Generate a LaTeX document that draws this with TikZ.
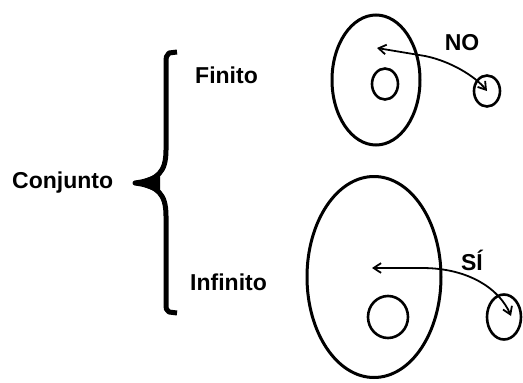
\documentclass[tikz,border=0pt]{standalone}
\usepackage{fontspec}
\setmainfont{Liberation Sans}
\usetikzlibrary{arrows.meta,shapes.geometric}

\begin{document}
\begin{tikzpicture}[
x=1pt, y=-1pt,
lbl/.style={font=\fontsize{23}{27}\selectfont\bfseries, inner sep=0pt},
set/.style={draw, ellipse, line width=3pt, inner sep=0pt},
elem/.style={set, line width=2.6pt},
arr/.style={{Straight Barb[length=2.6mm,width=3.4mm]}-{Straight Barb[length=2.6mm,width=3.4mm]}, line width=1.8pt}
]
\useasboundingbox (0,0) rectangle (523,383);
% labels
\node[lbl, anchor=west] (conj) at (12,183) {Conjunto};
\node[lbl, anchor=west] (fin) at (195,75) {Finito};
\node[lbl, anchor=west] (inf) at (190,282) {Infinito};
\node[lbl] (no) at (462,43) {NO};
\node[lbl] (si) at (472,260) {SÍ};
% brace
\draw[line width=5pt, line join=round]
  (177,52) -- (169,53) .. controls (166,56) .. (166,66) -- (166,150)
  .. controls (166,172) and (158,180) .. (135,183)
  .. controls (158,186) and (166,194) .. (166,216) -- (166,300)
  .. controls (166,310) .. (169,312) -- (177,313);
\fill (134,183) -- (160,173) -- (160,193) -- cycle;
% finite set
\node[set, minimum width=88pt, minimum height=130pt] (finA) at (376,80) {};
\node[elem, minimum width=26pt, minimum height=31pt] (finB) at (385,84) {};
\node[elem, minimum width=26pt, minimum height=31pt] (finC) at (487,91) {};
\coordinate (finP) at (377,48);
\draw[arr] (finP) -- (425,56) .. controls (450,61) and (475,76) .. (finC.center);
% infinite set
\node[set, minimum width=134pt, minimum height=201pt] (infA) at (374,277) {};
\node[elem, minimum width=40pt, minimum height=42pt] (infB) at (388,317) {};
\node[elem, minimum width=34pt, minimum height=45pt] (infC) at (504,317) {};
\coordinate (infP) at (372,268);
\coordinate (infQ) at (511,316);
\draw[arr] (infP) -- (422,268) .. controls (470,268) and (500,290) .. (infQ);
\end{tikzpicture}
\end{document}
